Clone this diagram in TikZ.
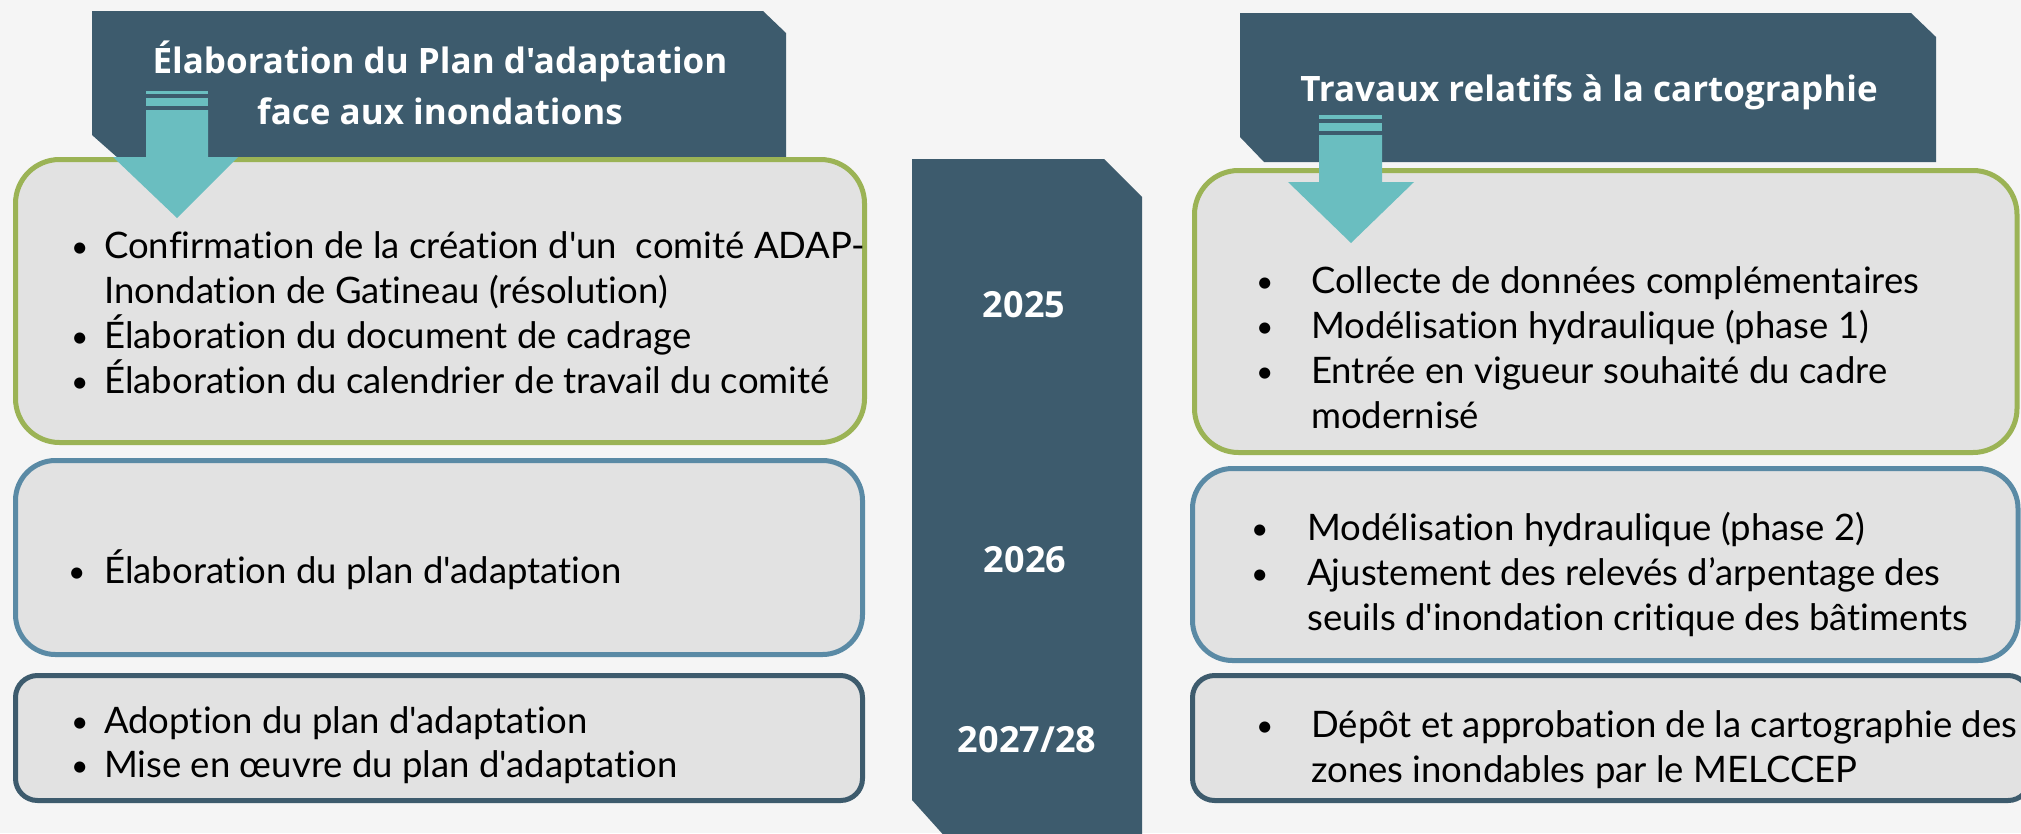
\documentclass[tikz,border=0pt]{standalone}
\usepackage{fontspec}
\setmainfont{Lato}[Ligatures={TeXOff,CommonOff}]
\newfontfamily\hfont{Open Sans}[Ligatures={TeXOff,CommonOff}]
\definecolor{bg}{HTML}{F5F5F5}
\definecolor{slate}{HTML}{3D5B6D}
\definecolor{teal}{HTML}{6ABEC0}
\definecolor{boxfill}{HTML}{E2E2E2}
\definecolor{green}{HTML}{9BB355}
\definecolor{blueb}{HTML}{5A8AA5}
\tikzset{
  banner/.style={fill=slate, draw=none},
  card/.style={fill=boxfill, line width=5pt},
  arrowfill/.style={fill=teal, draw=none},
  headtxt/.style={text=white, font=\hfont\bfseries\fontsize{35}{40}\selectfont, inner sep=0pt, anchor=base},
  yeartxt/.style={text=white, font=\hfont\bfseries\fontsize{36}{40}\selectfont, inner sep=0pt},
  bodytxt/.style={text=black, font=\fontsize{36.5}{40}\selectfont, inner sep=0pt, anchor=base west},
  bullettxt/.style={text=black, font=\fontsize{30}{36}\selectfont, inner sep=0pt, anchor=base west},
}
\begin{document}
\begin{tikzpicture}[x=1pt, y=-1pt]
\clip (0,0) rectangle (2021,833);
\fill[bg] (0,0) rectangle (2021,833);

% middle year column
\fill[banner] (912,159) -- (1104,159) -- (1142,197) -- (1142,850) -- (957,850) -- (912,800) -- cycle;
\node[yeartxt] (y25) at (1024,305) {2025};
\node[yeartxt] (y26) at (1025,560) {2026};
\node[yeartxt] (y27) at (1027,740) {2027/28};

% headers
\fill[banner] (92,11) -- (763,11) -- (786,33) -- (786,158) -- (118,158) -- (92,135) -- cycle;
\node[headtxt] (h1a) at (440,73) {Élaboration du Plan d'adaptation};
\node[headtxt] (h1b) at (440,124) {face aux inondations};
\fill[banner] (1240,13) -- (1911,13) -- (1936,37) -- (1936,162) -- (1264,162) -- (1240,137) -- cycle;
\node[headtxt] (h2) at (1589,101) {Travaux relatifs à la cartographie};

% left cards
\draw[card, draw=green, rounded corners=44pt] (15.5,159.5) rectangle (864.5,442.5);
\draw[card, draw=blueb, rounded corners=40pt] (15.5,460.5) rectangle (862.5,654.5);
\draw[card, draw=slate, rounded corners=22pt] (15.5,675.5) rectangle (862.5,800.5);

% right cards
\draw[card, draw=green, rounded corners=44pt] (1194.5,170.5) rectangle (2017,452.5);
\draw[card, draw=blueb, rounded corners=40pt] (1192.5,468.5) rectangle (2018,660.5);
\draw[card, draw=slate, rounded corners=22pt] (1192.5,675.5) rectangle (2030,800.5);

% arrows
\fill[arrowfill] (146,91) rectangle (208,94);
\fill[arrowfill] (146,98) rectangle (208,106);
\fill[arrowfill] (146,110) -- (208,110) -- (208,157) -- (238,157) -- (177,218) -- (113,157) -- (146,157) -- cycle;
\fill[arrowfill] (1319,115) rectangle (1382,119);
\fill[arrowfill] (1319,123) rectangle (1382,131);
\fill[arrowfill] (1319,135) -- (1382,135) -- (1382,182) -- (1414,182) -- (1351,243) -- (1288,182) -- (1319,182) -- cycle;

% left texts
\node[bullettxt] (b1) at (71,257) {•};
\node[bodytxt] (t1) at (104,258) {Confirmation de la création d'un\ \ comité ADAP-};
\node[bodytxt] (t1b) at (104,303) {Inondation de Gatineau (résolution)};
\node[bullettxt] (b2) at (71,347) {•};
\node[bodytxt] (t2) at (104,348) {Élaboration du document de cadrage};
\node[bullettxt] (b3) at (71,392) {•};
\node[bodytxt] (t3) at (104,393) {Élaboration du calendrier de travail du comité};
\node[bullettxt] (b4) at (68,582) {•};
\node[bodytxt] (t4) at (104,583) {Élaboration du plan d'adaptation};
\node[bullettxt] (b5) at (71,732) {•};
\node[bodytxt] (t5) at (104,733) {Adoption du plan d'adaptation};
\node[bullettxt] (b6) at (71,776) {•};
\node[bodytxt] (t6) at (104,777) {Mise en œuvre du plan d'adaptation};

% right texts
\node[bullettxt] (r1b) at (1256,292) {•};
\node[bodytxt] (r1) at (1311,293) {Collecte de données complémentaires};
\node[bullettxt] (r2b) at (1256,337) {•};
\node[bodytxt] (r2) at (1311,338) {Modélisation hydraulique (phase 1)};
\node[bullettxt] (r3b) at (1256,382) {•};
\node[bodytxt] (r3) at (1311,383) {Entrée en vigueur souhaité du cadre};
\node[bodytxt] (r3c) at (1311,428) {modernisé};
\node[bullettxt] (r4b) at (1251,539) {•};
\node[bodytxt] (r4) at (1307,540) {Modélisation hydraulique (phase 2)};
\node[bullettxt] (r5b) at (1251,584) {•};
\node[bodytxt] (r5) at (1307,585) {Ajustement des relevés d’arpentage des};
\node[bodytxt] (r5c) at (1307,630) {seuils d'inondation critique des bâtiments};
\node[bullettxt] (r6b) at (1256,736) {•};
\node[bodytxt] (r6) at (1311,737) {Dépôt et approbation de la cartographie des};
\node[bodytxt] (r6c) at (1311,782) {zones inondables par le MELCCEP};
\end{tikzpicture}
\end{document}
